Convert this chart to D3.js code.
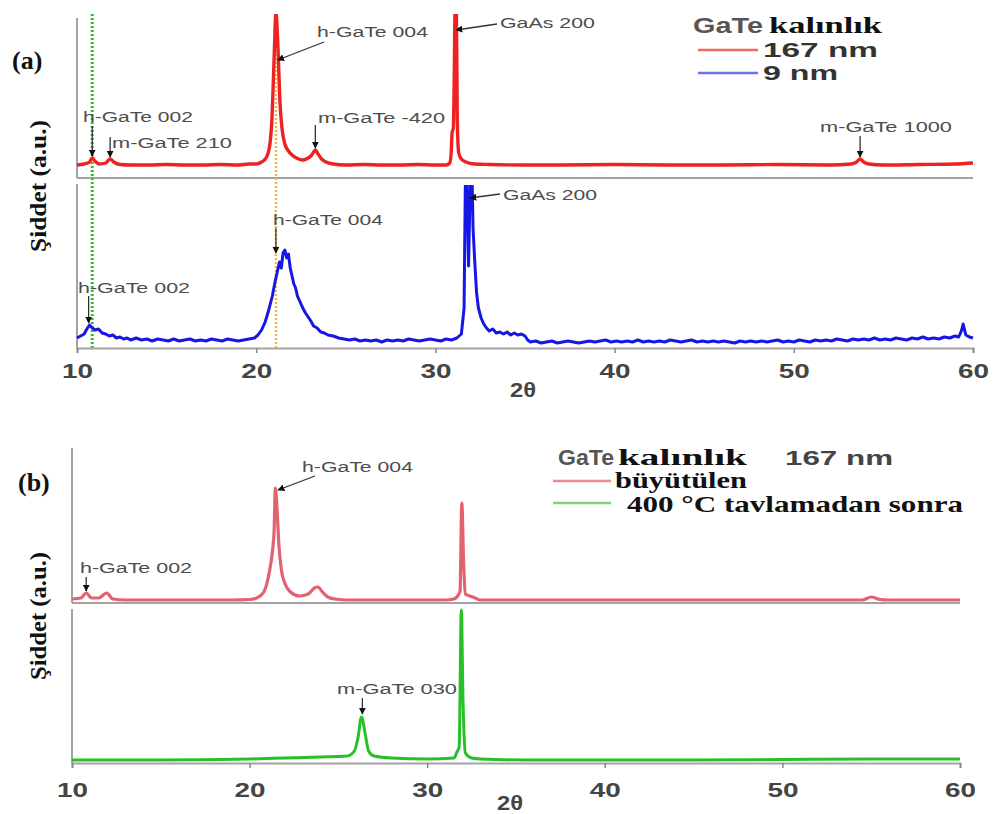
<!DOCTYPE html>
<html>
<head>
<meta charset="utf-8">
<script src="https://cdn.jsdelivr.net/npm/d3@7"></script>
<style>
  html, body { margin: 0; padding: 0; background: #fff; }
  svg { display: block; }
</style>
</head>
<body>
<svg id="chart" width="997" height="814"></svg>
<script>
// ---------- data: XRD scans, [2θ (deg), intensity (a.u.)] ----------
const xTicks = [10, 20, 30, 40, 50, 60];

// (a) 167 nm GaTe film
const film167 = [
  [10,13],[10.4,14],[10.7,16],[10.85,20],[11.0,17],[11.25,14],[11.6,15],[11.85,19],[12.05,16],[12.4,13.5],
  [13,13],[14,13],[15,13.5],[16,13],[17,13],[18,13.5],[19,13],[19.6,14],[20.0,14],[20.3,16],[20.55,20],
  [20.75,32],[20.88,60],[21.0,120],[21.1,165],[21.22,128],[21.32,78],[21.45,48],[21.6,34],[21.8,27],[22.0,23],
  [22.3,19.5],[22.6,18],[22.9,20],[23.1,23],[23.3,28],[23.45,24],[23.65,19],[23.9,16],[24.3,14],[25,13],
  [26,13.5],[27,13],[28,13],[29,13.5],[30,13],[30.6,13],[30.8,15],[30.88,25],[30.93,45],[31.0,50],
  [31.05,100],[31.1,170],[31.17,170],[31.22,60],[31.3,25],[31.45,19],[31.7,16],[32.2,14],[33,13.5],
  [35,13],[37,13],[40,13.5],[43,13],[46,13],[49,13.5],[52,13],[53.2,14],[53.5,16],[53.7,19],[53.9,16],
  [54.2,14],[55,13],[57,13.5],[59,14],[60,15]
];

// (a) 9 nm GaTe film
const film9 = [
  [10.0,10],[10.2,12],[10.4,14],[10.55,19],[10.7,23],[10.85,20],[11.0,18],[11.2,19],[11.4,15],[11.6,14],
  [11.8,12],[12.0,13],[12.2,10],[12.4,11],[12.6,9],[12.8,10],[13.0,8],[13.3,10],[13.6,8],[13.9,9],
  [14.2,7],[14.5,9],[14.8,8],[15.1,7],[15.4,9],[15.7,7],[16.0,8],[16.3,9],[16.6,7],[16.9,8],[17.2,7],
  [17.5,9],[17.8,8],[18.1,7],[18.4,9],[18.7,8],[19.0,7],[19.3,8],[19.6,9],[19.9,10],[20.1,13],[20.3,18],
  [20.5,26],[20.7,38],[20.9,52],[21.05,66],[21.2,78],[21.3,86],[21.4,80],[21.5,95],[21.6,98],[21.7,90],
  [21.8,94],[21.9,80],[22.0,72],[22.1,64],[22.2,60],[22.3,52],[22.45,46],[22.6,40],[22.75,35],[22.9,31],
  [23.05,27],[23.2,22],[23.4,20],[23.6,16],[23.8,15],[24.0,13],[24.3,12],[24.6,10],[24.9,9],[25.2,8],
  [25.5,9],[25.8,7],[26.1,8],[26.4,7],[26.7,8],[27.0,6],[27.3,8],[27.6,7],[27.9,8],[28.2,7],[28.5,9],
  [28.8,8],[29.1,7],[29.4,8],[29.7,9],[30.0,8],[30.3,7],[30.6,9],[30.9,8],[31.2,10],[31.45,14],[31.6,40],
  [31.7,215],[31.85,82],[32.0,215],[32.1,120],[32.2,85],[32.3,55],[32.4,40],[32.55,30],[32.7,24],[32.85,20],
  [33.0,17],[33.2,19],[33.4,15],[33.6,16],[33.8,14],[34.0,16],[34.2,13],[34.4,15],[34.6,13],[34.8,14],
  [35.0,12],[35.15,8],[35.3,6],[35.6,7],[35.9,5],[36.2,6],[36.5,7],[36.8,5],[37.1,6],[37.4,7],[37.7,6],
  [38.0,5],[38.3,6],[38.6,7],[38.9,6],[39.2,7],[39.5,8],[39.8,6],[40.1,7],[40.4,6],[40.7,7],[41.0,6],
  [41.3,8],[41.6,6],[41.9,7],[42.2,6],[42.5,7],[42.8,6],[43.1,8],[43.4,7],[43.7,6],[44.0,7],[44.3,8],
  [44.6,6],[44.9,7],[45.2,6],[45.5,7],[45.8,6],[46.1,7],[46.4,6],[46.7,5],[47.0,7],[47.3,6],[47.6,7],
  [47.9,6],[48.2,7],[48.5,6],[48.8,7],[49.1,8],[49.4,6],[49.7,7],[50.0,6],[50.3,8],[50.6,7],[50.9,6],
  [51.2,8],[51.5,7],[51.8,8],[52.1,7],[52.4,9],[52.7,8],[53.0,7],[53.3,9],[53.6,8],[53.9,9],[54.2,8],
  [54.5,10],[54.8,8],[55.1,9],[55.4,8],[55.7,10],[56.0,9],[56.3,8],[56.6,10],[56.9,9],[57.2,11],[57.5,9],
  [57.8,10],[58.1,9],[58.4,11],[58.7,10],[59.0,12],[59.2,11],[59.35,17],[59.45,24],[59.6,13],[59.8,11],[60.0,10]
];

// (b) 167 nm film, as grown
const asGrown = [
  [10,4],[10.5,5],[10.8,10],[11.1,5],[11.5,5],[11.95,10],[12.3,4],[13,3],[16,3],[19,3],[20.0,3.5],
  [20.4,5],[20.8,11],[21.1,30],[21.3,54],[21.38,72],[21.45,115],[21.55,92],[21.65,58],[21.8,32],
  [22.0,19],[22.3,11],[22.8,7],[23.3,9],[23.65,15],[23.85,16],[24.1,11],[24.4,6],[24.8,4],[25.5,3],
  [28,3],[31.0,3],[31.5,4],[31.75,8],[31.85,12],[31.95,100],[32.05,40],[32.15,9],[32.4,7],[32.7,5],
  [33,3],[40,3],[50,3],[54.5,3],[55.0,6],[55.5,3.5],[56,3],[60,3]
];

// (b) 167 nm film, after 400 °C anneal
const annealed = [
  [10,3],[15,3],[20,4],[22,5],[24,6],[25.5,7],[25.9,12],[26.1,25],[26.3,46],[26.5,30],[26.7,12],
  [27,7],[28,5],[30,4],[31.5,5],[31.7,12],[31.8,16],[31.92,153],[32.02,60],[32.15,10],[32.5,5],
  [33,4],[35.5,3],[40,3],[45,3],[50,3.5],[55,4],[60,4]
];

// reference 2θ positions marked with dotted lines in (a)
const refLinesA = [10.85, 21.1];

// peak labels: [text, 2θ, intensity at arrow tip]
const peaksA167 = [["h-GaTe 002",10.85,22],["m-GaTe 210",11.85,21],["h-GaTe 004",21.2,118],["m-GaTe -420",23.3,30],["GaAs 200",31.15,148],["m-GaTe 1000",53.7,21]];
const peaksA9 = [["GaAs 200",31.93,150],["h-GaTe 004",21.1,95],["h-GaTe 002",10.65,25]];
const peaksBgrown = [["h-GaTe 004",21.6,113],["h-GaTe 002",10.8,12]];
const peaksBannealed = [["m-GaTe 030",26.35,49]];

// ---------- drawing ----------
const svg = d3.select("#chart");
svg.append("rect").attr("width", 997).attr("height", 814).attr("fill", "#fff");

const defs = svg.append("defs");
defs.append("marker").attr("id", "head")
  .attr("viewBox", "0 0 10 10").attr("refX", 9).attr("refY", 5)
  .attr("markerWidth", 7).attr("markerHeight", 7).attr("markerUnits", "userSpaceOnUse")
  .attr("orient", "auto")
  .append("path").attr("d", "M0,0 L10,5 L0,10 Z").attr("fill", "#111");

const AXIS = "#a3a3a3";
const SANS = "'Liberation Sans', Arial, sans-serif";
const SERIF = "'Liberation Serif', 'Times New Roman', serif";

const xA = d3.scaleLinear([10, 60], [77, 973]);
const yA1 = d3.scaleLinear([0, 160], [178, 18]);
const yA2 = d3.scaleLinear([0, 160], [348, 188]);
const xB = d3.scaleLinear([10, 60], [72, 960]);
const yB1 = d3.scaleLinear([0, 160], [603, 443]);
const yB2 = d3.scaleLinear([0, 160], [763, 603]);

let clipN = 0;
function trace(x, y, data, color, width, top, bottom, curve) {
  const id = "clip" + (clipN++);
  defs.append("clipPath").attr("id", id).append("rect")
    .attr("x", x.range()[0] - 5).attr("y", top)
    .attr("width", x.range()[1] - x.range()[0] + 10).attr("height", bottom - top);
  const line = d3.line().x(d => x(d[0])).y(d => y(d[1])).curve(curve || d3.curveMonotoneX);
  svg.append("path").datum(data).attr("clip-path", `url(#${id})`)
    .attr("d", line).attr("fill", "none").attr("stroke", color)
    .attr("stroke-width", width).attr("stroke-linejoin", "round");
}

function frame(x, topA, sepY, topB, axisY) {
  const g = svg.append("g").attr("stroke", AXIS).attr("stroke-width", 2);
  const x0 = x.range()[0], x1 = x.range()[1];
  g.append("line").attr("x1", x0).attr("x2", x0).attr("y1", topA).attr("y2", sepY);
  g.append("line").attr("x1", x0).attr("x2", x1).attr("y1", sepY).attr("y2", sepY);
  g.append("line").attr("x1", x0).attr("x2", x0).attr("y1", sepY + 6).attr("y2", axisY);
}

function xAxis(x, axisY, labelY, titleX, titleY) {
  const ax = svg.append("g").attr("transform", `translate(0,${axisY})`)
    .call(d3.axisBottom(x).tickValues(xTicks).tickSize(5).tickFormat(d3.format("d")));
  ax.select(".domain").attr("stroke", AXIS).attr("stroke-width", 2);
  ax.selectAll(".tick line").attr("stroke", "#888").attr("stroke-width", 1.5);
  ax.selectAll(".tick text")
    .attr("y", labelY - axisY).attr("dy", 0)
    .attr("font-family", SANS).attr("font-size", 21).attr("font-weight", "bold")
    .attr("fill", "#444").attr("textLength", 31).attr("lengthAdjust", "spacingAndGlyphs");
  svg.append("text").attr("x", titleX).attr("y", titleY)
    .attr("font-family", SANS).attr("font-size", 20).attr("font-weight", "bold")
    .attr("fill", "#444").attr("textLength", 26).attr("lengthAdjust", "spacingAndGlyphs")
    .text("2θ");
}

// label layouts: text position, width and arrow start (pixels), per label
function annotate(x, y, peaks, layout) {
  peaks.forEach((p, i) => {
    const L = layout[i];
    svg.append("text").attr("x", L.lx).attr("y", L.ly)
      .attr("font-family", SANS).attr("font-size", 14).attr("fill", "#4d4d4d")
      .attr("textLength", L.w).attr("lengthAdjust", "spacingAndGlyphs").text(p[0]);
    svg.append("line").attr("x1", L.ax).attr("y1", L.ay)
      .attr("x2", x(p[1])).attr("y2", y(p[2]))
      .attr("stroke", "#333").attr("stroke-width", 1.3).attr("marker-end", "url(#head)");
  });
}

function yTitle(cx, cy, len) {
  svg.append("text").attr("transform", `translate(${cx},${cy}) rotate(-90)`)
    .attr("text-anchor", "middle").attr("font-family", SERIF).attr("font-size", 23)
    .attr("font-weight", "bold").attr("fill", "#111")
    .attr("textLength", len).attr("lengthAdjust", "spacingAndGlyphs")
    .text("Şiddet (a.u.)");
}

// ===== panel (a) =====
frame(xA, 18, 178, 178, 348);
refLinesA.forEach((v, i) => {
  svg.append("line").attr("x1", xA(v)).attr("x2", xA(v)).attr("y1", 14).attr("y2", 348)
    .attr("stroke", i === 0 ? "#2fbf2f" : "#f2b84a").attr("stroke-width", i === 0 ? 3 : 2.5)
    .attr("stroke-dasharray", "2,2");
});
trace(xA, yA1, film167, "#ee2222", 3.4, 14, 177);
trace(xA, yA2, film9, "#1616e6", 3, 185, 347, d3.curveLinear);
xAxis(xA, 348, 378, 510, 397);

annotate(xA, yA1, peaksA167, [
  {lx: 83, ly: 122, w: 110, ax: xA(10.85), ay: 126},
  {lx: 112, ly: 148, w: 120, ax: xA(11.85), ay: 137},
  {lx: 317, ly: 37, w: 111, ax: 324, ay: 42},
  {lx: 318, ly: 123, w: 127, ax: xA(23.3), ay: 125},
  {lx: 500, ly: 28, w: 95, ax: 497, ay: 24},
  {lx: 820, ly: 132, w: 132, ax: xA(53.7), ay: 136}
]);
annotate(xA, yA2, peaksA9, [
  {lx: 503, ly: 200, w: 94, ax: 500, ay: 194},
  {lx: 273, ly: 225, w: 110, ax: xA(21.1), ay: 228},
  {lx: 78, ly: 293, w: 112, ax: xA(10.65), ay: 296}
]);

// legend (a)
svg.append("text").attr("x", 693).attr("y", 33).attr("font-family", SANS).attr("font-size", 22)
  .attr("font-weight", "bold").attr("fill", "#555").attr("textLength", 70)
  .attr("lengthAdjust", "spacingAndGlyphs").text("GaTe");
svg.append("text").attr("x", 769).attr("y", 33).attr("font-family", SERIF).attr("font-size", 24)
  .attr("font-weight", "bold").attr("fill", "#111").attr("textLength", 113)
  .attr("lengthAdjust", "spacingAndGlyphs").text("kalınlık");
[["167 nm", "#f06a6a", 50, 57, 115], ["9 nm", "#6f6ff0", 73, 80, 75]].forEach(r => {
  svg.append("line").attr("x1", 698).attr("x2", 758).attr("y1", r[2]).attr("y2", r[2])
    .attr("stroke", r[1]).attr("stroke-width", 2.5);
  svg.append("text").attr("x", 763).attr("y", r[3]).attr("font-family", SANS).attr("font-size", 21)
    .attr("font-weight", "bold").attr("fill", "#333").attr("textLength", r[4])
    .attr("lengthAdjust", "spacingAndGlyphs").text(r[0]);
});

svg.append("text").attr("x", 12).attr("y", 69).attr("font-family", SERIF).attr("font-size", 26)
  .attr("font-weight", "bold").attr("fill", "#111").text("(a)");
yTitle(46, 186, 132);

// ===== panel (b) =====
frame(xB, 448, 603, 603, 763);
trace(xB, yB1, asGrown, "#e2636f", 3.2, 440, 603);
trace(xB, yB2, annealed, "#27c027", 3, 606, 762);
xAxis(xB, 763, 797, 497, 810);

annotate(xB, yB1, peaksBgrown, [
  {lx: 302, ly: 472, w: 111, ax: 315, ay: 476},
  {lx: 80, ly: 573, w: 112, ax: xB(10.8), ay: 577}
]);
annotate(xB, yB2, peaksBannealed, [
  {lx: 337, ly: 694, w: 120, ax: xB(26.35), ay: 698}
]);

// legend (b)
svg.append("text").attr("x", 558).attr("y", 465).attr("font-family", SANS).attr("font-size", 22)
  .attr("font-weight", "bold").attr("fill", "#555").attr("textLength", 56)
  .attr("lengthAdjust", "spacingAndGlyphs").text("GaTe");
svg.append("text").attr("x", 618).attr("y", 465).attr("font-family", SERIF).attr("font-size", 23)
  .attr("font-weight", "bold").attr("fill", "#111").attr("textLength", 129)
  .attr("lengthAdjust", "spacingAndGlyphs").text("kalınlık");
svg.append("text").attr("x", 785).attr("y", 465).attr("font-family", SANS).attr("font-size", 21)
  .attr("font-weight", "bold").attr("fill", "#444").attr("textLength", 108)
  .attr("lengthAdjust", "spacingAndGlyphs").text("167 nm");
[["büyütülen", "#eb8a94", 481, 488, 615, 132], ["400 °C tavlamadan sonra", "#7fd37f", 503, 512, 627, 336]].forEach(r => {
  svg.append("line").attr("x1", 553).attr("x2", 611).attr("y1", r[2]).attr("y2", r[2])
    .attr("stroke", r[1]).attr("stroke-width", 2.5);
  svg.append("text").attr("x", r[4]).attr("y", r[3]).attr("font-family", SERIF).attr("font-size", 23)
    .attr("font-weight", "bold").attr("fill", "#111").attr("textLength", r[5])
    .attr("lengthAdjust", "spacingAndGlyphs").text(r[0]);
});

svg.append("text").attr("x", 18).attr("y", 491).attr("font-family", SERIF).attr("font-size", 26)
  .attr("font-weight", "bold").attr("fill", "#111").text("(b)");
yTitle(46, 616, 128);
</script>
</body>
</html>
